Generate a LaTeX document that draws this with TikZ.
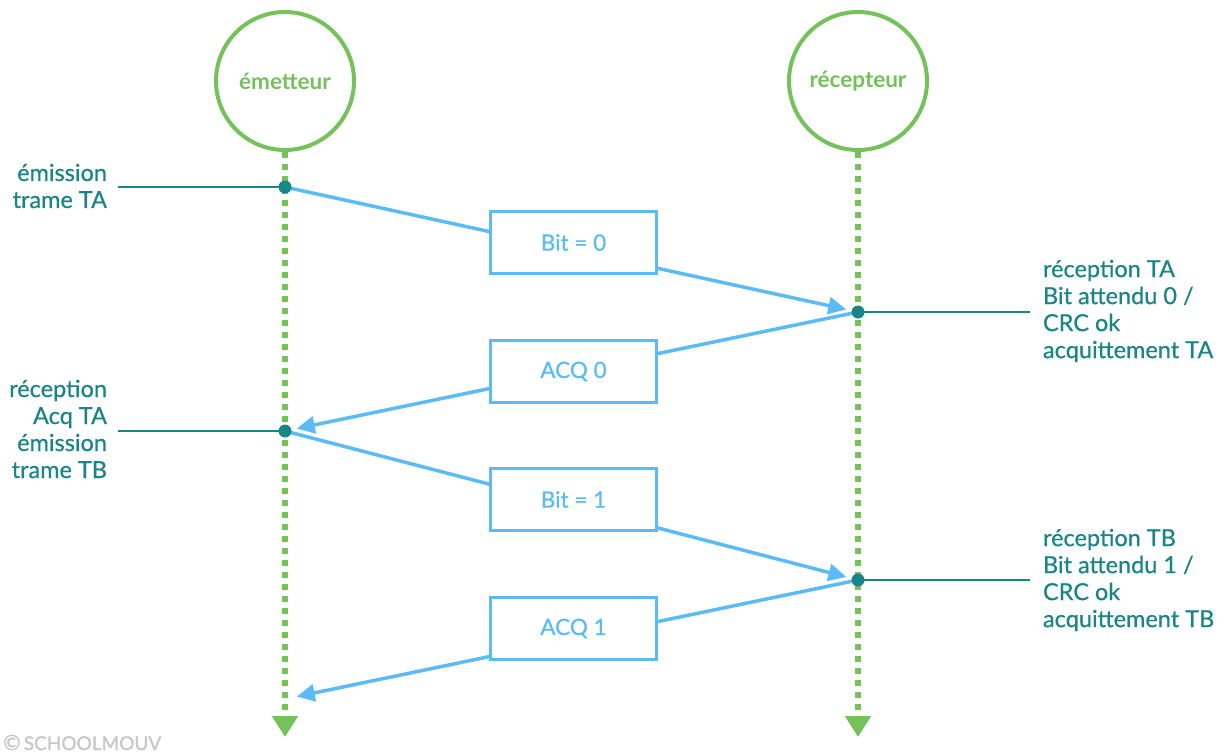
\documentclass[tikz,border=0pt]{standalone}
\usepackage{fontspec}
\setmainfont{Lato}
\newfontfamily\labfont{Lato}[FakeBold=0.6]
\newfontfamily\wmfont{Lato}[FakeBold=1.5]
\usetikzlibrary{arrows.meta}
\definecolor{vert}{RGB}{117,193,90}
\definecolor{sarcelle}{RGB}{26,133,134}
\definecolor{bleu}{RGB}{91,187,246}
\begin{document}
\begin{tikzpicture}[x=1pt,y=-1pt,
  actor/.style={circle, draw=vert, line width=4pt, minimum size=138pt, inner sep=0pt, fill=white,
    text=vert, font=\bfseries\fontsize{22.5}{26}\selectfont},
  life/.style={vert, line width=5.5pt, dash pattern=on 6pt off 6pt,
    -{Triangle[length=21pt,width=25pt]}},
  dotnode/.style={circle, fill=sarcelle, minimum size=13pt, inner sep=0pt},
  tick/.style={sarcelle, line width=1.5pt},
  msg/.style={bleu, line width=3.5pt, shorten >=12pt, -{Triangle[length=18pt,width=17pt]}},
  msgbox/.style={draw=bleu, line width=3pt, fill=white, minimum width=166pt, minimum height=62pt,
    text=bleu, font=\labfont\fontsize{22.5}{26}\selectfont},
  lab/.style={text=sarcelle, font=\labfont\fontsize{23.5}{27}\selectfont, inner sep=0pt}
]
\useasboundingbox (0,0) rectangle (1226,755);

% actors
\node[actor] (em) at (285,81) {émetteur};
\node[actor] (re) at (858,81) {récepteur};

% lifelines
\coordinate (emEnd) at (285,737);
\coordinate (reEnd) at (858,737);
\draw[life] (em.south) -- (emEnd);
\draw[life] (re.south) -- (reEnd);

% event points
\coordinate (p1) at (285,187);
\coordinate (p2) at (858,312);
\coordinate (p3) at (285,431);
\coordinate (p4) at (858,580);
\coordinate (p5) at (285,699);

% messages
\draw[msg] (p1) -- (p2);
\draw[msg] (p2) -- (p3);
\draw[msg] (p3) -- (p4);
\draw[msg] (p4) -- (p5);

% boxes
\node[msgbox] (b1) at (573.5,242.5) {Bit = 0};
\node[msgbox] (b2) at (573.5,371.5) {ACQ 0};
\node[msgbox] (b3) at (573.5,499.5) {Bit = 1};
\node[msgbox] (b4) at (573.5,628.5) {ACQ 1};

% labels
\node[lab, align=right, anchor=east, outer xsep=11pt] (l1) at (118,186) {émission\\trame TA};
\node[lab, align=right, anchor=east, outer xsep=11pt] (l3) at (118,429) {réception\\Acq TA\\émission\\trame TB};
\node[lab, align=left, anchor=west, outer xsep=13pt] (l2) at (1030,311) {réception TA\\Bit attendu 0 /\\CRC ok\\acquittement TA};
\node[lab, align=left, anchor=west, outer xsep=13pt] (l4) at (1030,580) {réception TB\\Bit attendu 1 /\\CRC ok\\acquittement TB};

\draw[tick] (l1.east |- p1) -- (p1);
\draw[tick] (l3.east |- p3) -- (p3);
\draw[tick] (p2) -- (l2.west |- p2);
\draw[tick] (p4) -- (l4.west |- p4);

% dots
\node[dotnode] (d1) at (p1) {};
\node[dotnode] (d2) at (p2) {};
\node[dotnode] (d3) at (p3) {};
\node[dotnode] (d4) at (p4) {};

% watermark
\node[anchor=base west, inner sep=0pt, text=black!22, font=\wmfont\fontsize{19}{19}\selectfont] (wm) at (3,750) {{\fontsize{21}{21}\selectfont ©}\,SCHOOLMOUV};
\end{tikzpicture}
\end{document}
